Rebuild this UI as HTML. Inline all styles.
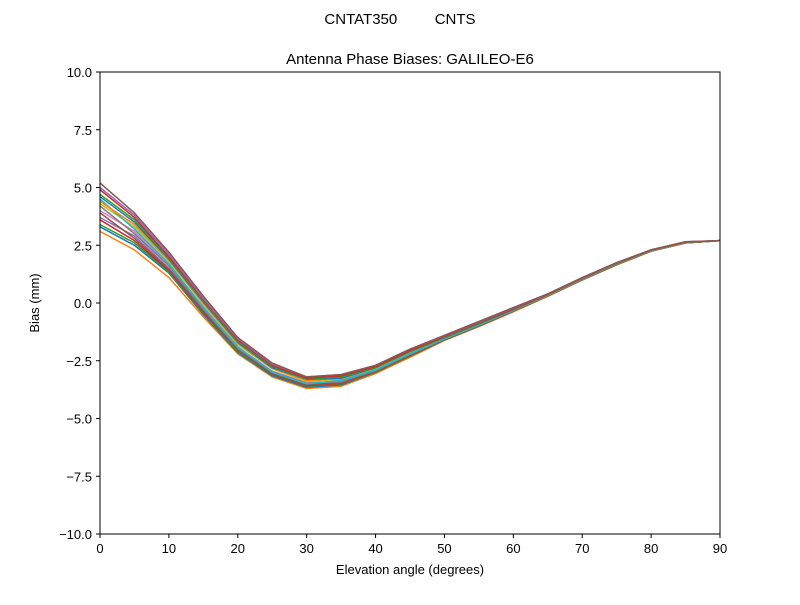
<!DOCTYPE html>
<html><head><meta charset="utf-8"><style>
body{margin:0;background:#fff;}
svg text{font-family:"Liberation Sans","DejaVu Sans",sans-serif;fill:#000;}
</style></head><body>
<svg id="chart" width="800" height="600">
<rect width="800" height="600" fill="#fff"/>
<text x="400" y="24" font-size="15" text-anchor="middle" xml:space="preserve">CNTAT350         CNTS</text>
<text x="410" y="64" font-size="15" text-anchor="middle">Antenna Phase Biases: GALILEO-E6</text>
<g id="plot"></g>
<rect x="100" y="72" width="620" height="462" fill="none" stroke="#000" stroke-width="1"/>
<text x="410" y="574" font-size="13" text-anchor="middle">Elevation angle (degrees)</text>
<text x="39" y="303" font-size="13" text-anchor="middle" transform="rotate(-90 39 303)">Bias (mm)</text>
</svg>
<script>
const elevations=[0,5,10,15,20,25,30,35,40,45,50,55,60,65,70,75,80,85,90];
const xTicks=[0,10,20,30,40,50,60,70,80,90];
const yTicks=[-10,-7.5,-5,-2.5,0,2.5,5,7.5,10];
const yTickLabels=["\u221210.0","\u22127.5","\u22125.0","\u22122.5","0.0","2.5","5.0","7.5","10.0"];
const s0=[5.2,3.9,2.2,0.3,-1.5,-2.6,-3.2,-3.1,-2.7,-2.0,-1.4,-0.8,-0.2,0.4,1.1,1.75,2.3,2.65,2.7];
const s1=[4.9,3.7,2.0,0.15,-1.6,-2.7,-3.25,-3.15,-2.75,-2.05,-1.45,-0.85,-0.25,0.38,1.08,1.73,2.3,2.64,2.7];
const s2=[4.6,3.5,1.9,0.05,-1.7,-2.8,-3.3,-3.25,-2.8,-2.1,-1.5,-0.9,-0.28,0.36,1.06,1.72,2.29,2.63,2.7];
const s3=[4.3,3.3,1.8,-0.05,-1.8,-2.85,-3.4,-3.3,-2.85,-2.15,-1.52,-0.92,-0.3,0.35,1.05,1.71,2.28,2.62,2.7];
const s4=[4.0,3.1,1.65,-0.15,-1.9,-2.95,-3.45,-3.4,-2.9,-2.2,-1.55,-0.95,-0.32,0.33,1.03,1.7,2.27,2.62,2.7];
const s5=[3.7,2.9,1.5,-0.3,-2.0,-3.0,-3.5,-3.45,-2.95,-2.25,-1.58,-0.97,-0.34,0.32,1.02,1.68,2.26,2.61,2.7];
const s6=[3.4,2.6,1.35,-0.45,-2.1,-3.1,-3.6,-3.5,-3.0,-2.3,-1.6,-1.0,-0.36,0.3,1.0,1.66,2.25,2.6,2.7];
const s7=[3.1,2.3,1.1,-0.6,-2.2,-3.2,-3.7,-3.6,-3.05,-2.35,-1.62,-1.02,-0.38,0.29,0.99,1.65,2.24,2.6,2.7];
const s8=[4.5,3.2,1.7,-0.2,-1.9,-3.0,-3.5,-3.35,-2.9,-2.2,-1.55,-0.95,-0.3,0.34,1.04,1.7,2.27,2.62,2.7];
const s9=[3.3,2.5,1.3,-0.5,-2.15,-3.15,-3.65,-3.55,-3.0,-2.3,-1.6,-1.0,-0.35,0.31,1.01,1.67,2.25,2.6,2.7];
const s10=[5.0,3.8,2.1,0.2,-1.55,-2.65,-3.2,-3.1,-2.7,-2.0,-1.42,-0.82,-0.22,0.39,1.09,1.74,2.3,2.65,2.7];
const s11=[4.7,3.6,1.95,0.1,-1.65,-2.75,-3.28,-3.2,-2.78,-2.08,-1.48,-0.88,-0.26,0.37,1.07,1.72,2.29,2.63,2.7];
const s12=[4.2,3.0,1.6,-0.25,-1.95,-2.98,-3.48,-3.38,-2.92,-2.22,-1.56,-0.96,-0.33,0.33,1.03,1.69,2.27,2.62,2.7];
const s13=[3.9,2.8,1.45,-0.35,-2.05,-3.05,-3.55,-3.45,-2.97,-2.27,-1.58,-0.98,-0.34,0.32,1.02,1.68,2.26,2.61,2.7];
const s14=[3.6,2.7,1.4,-0.4,-2.05,-3.08,-3.58,-3.48,-2.98,-2.28,-1.59,-0.99,-0.35,0.31,1.01,1.67,2.25,2.6,2.7];
const s15=[4.4,3.4,1.85,0.0,-1.75,-2.82,-3.35,-3.28,-2.82,-2.12,-1.51,-0.91,-0.29,0.35,1.05,1.71,2.28,2.62,2.7];
const series=[s7,s9,s6,s14,s5,s13,s4,s12,s3,s8,s15,s2,s11,s1,s10,s0];
const colors=["#ff7f0e","#1f77b4","#2ca02c","#d62728","#9467bd","#8c564b","#e377c2","#7f7f7f","#bcbd22","#17becf"];
const X0=100,X1=720,Y0=534,Y1=72;
function xs(v){return X0+(v-0)/(90-0)*(X1-X0);}
function ys(v){return Y0-(v+10)/20*(Y0-Y1);}
const NS="http://www.w3.org/2000/svg";
const svg=document.getElementById('chart');
const plot=document.getElementById('plot');
function mk(t,a,p){const e=document.createElementNS(NS,t);for(const k in a)e.setAttribute(k,a[k]);(p||svg).appendChild(e);return e;}
series.forEach((s,i)=>{
  const pts=s.map((v,j)=>xs(elevations[j]).toFixed(1)+','+ys(v).toFixed(1)).join(' ');
  const l=mk('polyline',{points:pts,fill:'none',stroke:colors[i%colors.length],'stroke-width':1.5},plot);
  
  
});
xTicks.forEach(t=>{
  const x=xs(t);
  const tk=mk('line',{x1:x,x2:x,y1:534,y2:538,stroke:'#000'});
  
  
  const tx=mk('text',{x:x,y:553,'font-size':13,'text-anchor':'middle'});
  tx.textContent=t;
  
  
});
yTicks.forEach((t,i)=>{
  const y=ys(t);
  const tk=mk('line',{x1:96,x2:100,y1:y,y2:y,stroke:'#000'});
  
  
  const tx=mk('text',{x:92,y:y+5,'font-size':13,'text-anchor':'end'});
  tx.textContent=yTickLabels[i];
  
  
});
</script>
</body></html>
